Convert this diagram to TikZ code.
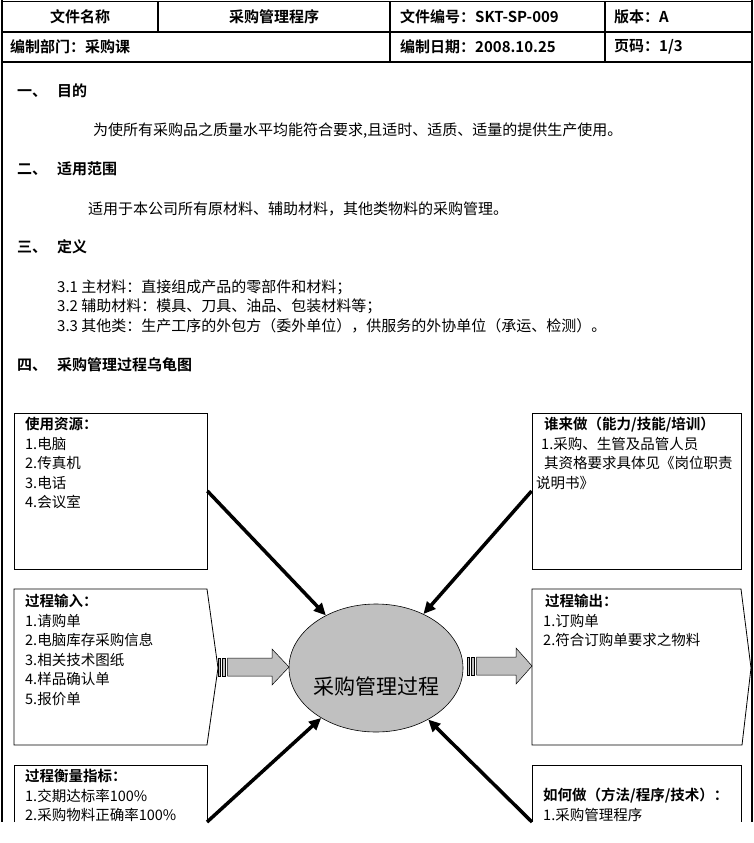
\documentclass[tikz,border=0pt]{standalone}
\usepackage{fontspec}
\setmainfont{Noto Sans CJK SC}[BoldFont={Noto Sans CJK SC Bold}]
\usetikzlibrary{arrows.meta,shapes.geometric}
\definecolor{procgray}{HTML}{C0C0C0}

\begin{document}
\begin{tikzpicture}[x=1pt, y=-1pt,
    txt/.style={anchor=west, inner sep=0pt, font=\fontsize{15}{17}\selectfont},
    sec/.style={anchor=west, inner sep=0pt, font=\fontsize{15}{17}\selectfont\bfseries},
    head/.style={inner sep=0pt, font=\fontsize{15}{17}\selectfont\bfseries},
    boxtxt/.style={anchor=north west, inner sep=0pt, align=left, font=\fontsize{14.5}{19.5}\selectfont},
    frame/.style={line width=1.8pt},
    boxline/.style={line width=0.8pt},
    tbox/.style={draw, boxline, inner sep=0pt},
    feed/.style={line width=3.5pt, -{Triangle[length=12pt,width=11pt]}},
    striped/.style={fill=procgray, draw=black, line width=0.5pt}]
    \useasboundingbox (0,0) rectangle (754,843);

    \draw[frame] (2,0) -- (2,822);
    \draw[frame] (752,0) -- (752,822);
    \draw[frame] (2,1.5) -- (752,1.5);
    \draw[frame] (2,32) -- (752,32);
    \draw[frame] (2,62) -- (752,62);
    \draw[frame] (158,1.5) -- (158,32);
    \draw[frame] (390,1.5) -- (390,62);
    \draw[frame] (605,1.5) -- (605,62);

    \node[head] (fname) at (80,17) {文件名称};
    \node[head] (ftitle) at (274,17) {采购管理程序};
    \node[head, anchor=west] (fno) at (400,17) {文件编号：SKT-SP-009};
    \node[head, anchor=west] (fver) at (614,17) {版本：A};
    \node[head, anchor=west] (fdept) at (10,47) {编制部门：采购课};
    \node[head, anchor=west] (fdate) at (400,47) {编制日期：2008.10.25};
    \node[head, anchor=west] (fpage) at (614,47) {页码：1/3};

    \node[sec] (sec1) at (17,91) {\makebox[40pt][l]{一、}目的};
    \node[txt] (aim) at (93,131) {为使所有采购品之质量水平均能符合要求,且适时、适质、适量的提供生产使用。};
    \node[sec] (sec2) at (17,169) {\makebox[40pt][l]{二、}适用范围};
    \node[txt] (scope) at (88,209) {适用于本公司所有原材料、辅助材料，其他类物料的采购管理。};
    \node[sec] (sec3) at (17,247) {\makebox[40pt][l]{三、}定义};
    \node[txt] (def1) at (57,287) {3.1 主材料：直接组成产品的零部件和材料；};
    \node[txt] (def2) at (57,306) {3.2 辅助材料：模具、刀具、油品、包装材料等；};
    \node[txt] (def3) at (57,326) {3.3 其他类：生产工序的外包方（委外单位），供服务的外协单位（承运、检测）。};
    \node[sec] (sec4) at (17,365) {\makebox[40pt][l]{四、}采购管理过程乌龟图};

    \node[tbox, minimum width=193pt, minimum height=156pt] (res) at (110.5,491) {};
    \node[tbox, minimum width=209pt, minimum height=156pt] (who) at (636.5,491) {};
    \draw[boxline] (14,589) -- (207,589) -- (218,668) -- (207,745) -- (14,745) -- cycle;
    \draw[boxline] (532,589) -- (741,589) -- (751,668) -- (742,745) -- (532,745) -- cycle;
    \draw[boxline] (14,822) -- (14,765) -- (207,765) -- (207,822);
    \draw[boxline] (532,822) -- (532,765) -- (741,765) -- (741,822);

    \node[boxtxt] (resT) at (25,417) {\textbf{使用资源：}\\1.电脑\\2.传真机\\3.电话\\4.会议室};
    \node[boxtxt] (whoT) at (536,417) {\hspace*{8pt}\textbf{谁来做（能力/技能/培训）}\\\hspace*{5pt}1.采购、生管及品管人员\\\hspace*{8pt}其资格要求具体见《岗位职责\\说明书》};
    \node[boxtxt] (inT) at (25,594) {\textbf{过程输入：}\\1.请购单\\2.电脑库存采购信息\\3.相关技术图纸\\4.样品确认单\\5.报价单};
    \node[boxtxt] (outT) at (543,594) {\hspace*{2pt}\textbf{过程输出：}\\1.订购单\\2.符合订购单要求之物料};
    \node[boxtxt] (mesT) at (25,769) {\textbf{过程衡量指标：}\\1.交期达标率100\%\\2.采购物料正确率100\%};
    \node[boxtxt] (howT) at (543,788) {\textbf{如何做（方法/程序/技术）：}\\1.采购管理程序};

    \node[ellipse, draw, fill=procgray, line width=0.6pt, minimum width=174pt, minimum height=128pt, inner sep=0pt] (proc) at (376,668) {};
    \node[inner sep=0pt, font=\fontsize{21}{24}\selectfont] (procT) at (376,686) {采购管理过程};

    \draw[striped] (218,658) rectangle (220.5,676);
    \draw[striped] (222.5,658) rectangle (225.5,676);
    \draw[striped] (227.5,658) -- (272,658) -- (272,649) -- (289,667) -- (272,685) -- (272,676) -- (227.5,676) -- cycle;
    \draw[striped] (467,657) rectangle (469.5,675);
    \draw[striped] (471.5,657) rectangle (474.5,675);
    \draw[striped] (476.5,657) -- (516,657) -- (516,648) -- (532,666) -- (516,684) -- (516,675) -- (476.5,675) -- cycle;

    \coordinate (mesA) at (207,822);
    \coordinate (howA) at (532,822);
    \draw[feed] (res.east) -- (proc);
    \draw[feed] (who.west) -- (proc);
    \draw[feed] (mesA) -- (proc);
    \draw[feed] (howA) -- (proc);
\end{tikzpicture}
\end{document}
